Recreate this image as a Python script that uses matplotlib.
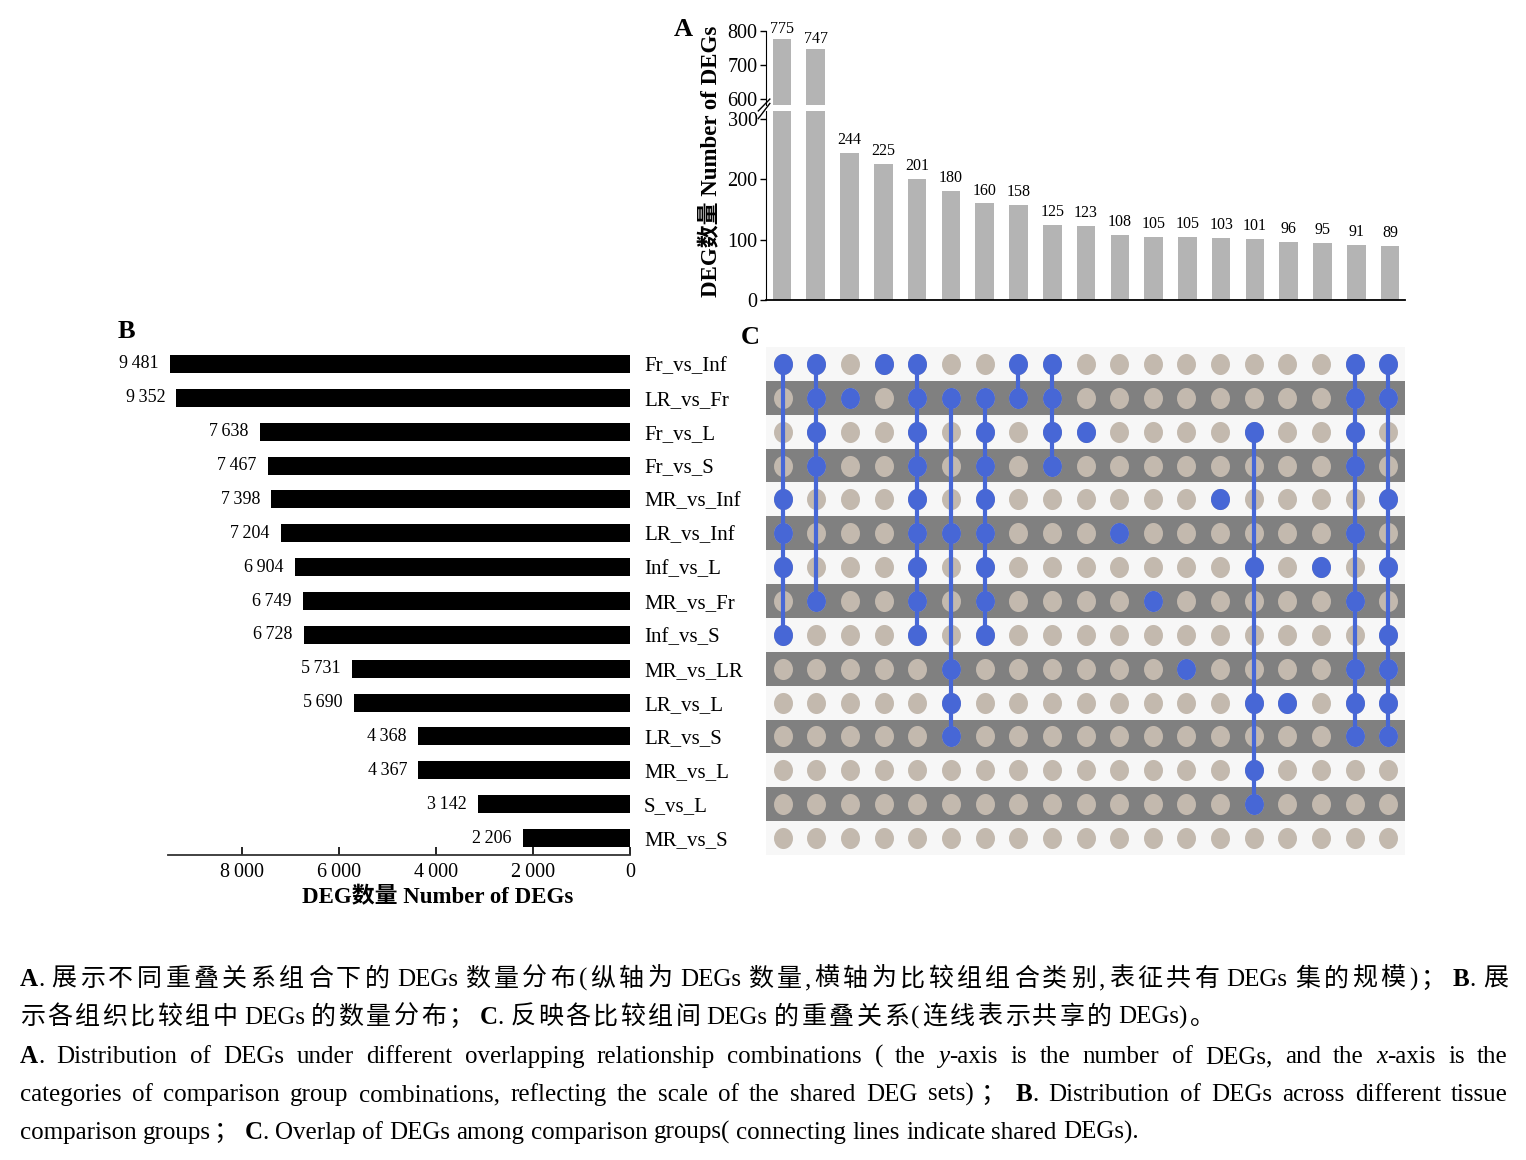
import matplotlib
matplotlib.use('Agg')
import matplotlib.pyplot as plt
from matplotlib.markers import MarkerStyle
from matplotlib.transforms import Affine2D

# ---- data ----
combo_counts = [775, 747, 244, 225, 201, 180, 160, 158, 125, 123, 108, 105, 105, 103, 101, 96, 95, 91, 89]
groups = ['Fr_vs_Inf', 'LR_vs_Fr', 'Fr_vs_L', 'Fr_vs_S', 'MR_vs_Inf', 'LR_vs_Inf', 'Inf_vs_L', 'MR_vs_Fr',
          'Inf_vs_S', 'MR_vs_LR', 'LR_vs_L', 'LR_vs_S', 'MR_vs_L', 'S_vs_L', 'MR_vs_S']
group_sizes = [9481, 9352, 7638, 7467, 7398, 7204, 6904, 6749, 6728, 5731, 5690, 4368, 4367, 3142, 2206]
# which groups (row index) belong to each combination column
combo_members = [
    [0, 4, 5, 6, 8],
    [0, 1, 2, 3, 7],
    [1],
    [0],
    [0, 1, 2, 3, 4, 5, 6, 7, 8],
    [1, 5, 9, 10, 11],
    [1, 2, 3, 4, 5, 6, 7, 8],
    [0, 1],
    [0, 1, 2, 3],
    [2],
    [5],
    [7],
    [9],
    [4],
    [2, 6, 10, 12, 13],
    [10],
    [6],
    [0, 1, 2, 3, 5, 7, 9, 10, 11],
    [0, 1, 4, 6, 8, 9, 10, 11],
]
b_ticks = [0, 2000, 4000, 6000, 8000]
a_low_ticks = [0, 100, 200, 300]
a_high_ticks = [600, 700, 800]
ylabel_txt = 'DEG数量 Number of DEGs'

SERIF = ['Liberation Serif', 'Noto Sans CJK SC', 'DejaVu Sans']
plt.rcParams['font.family'] = SERIF

BLUE = '#4767d6'
GREYDOT = '#c3b9ae'
BARGREY = '#b4b4b4'

W, H = 1526, 1160
fig = plt.figure(figsize=(W / 100, H / 100), dpi=100)


def px(l, t, r, b):
    return [l / W, 1 - b / H, (r - l) / W, (b - t) / H]


def thin(v):
    return f'{v:,}'.replace(',', '\u2009')


n = len(combo_counts)
xs = list(range(n))
XL = (-0.47, 18.44)

# ---- A: broken-axis bar chart ----
ax_hi = fig.add_axes(px(766, 31, 1405, 105))
ax_lo = fig.add_axes(px(766, 111, 1405, 300))
for ax in (ax_hi, ax_lo):
    ax.bar(xs, combo_counts, width=0.55, color=BARGREY)
    ax.set_xlim(*XL)
    ax.spines[['top', 'right']].set_visible(False)
    ax.tick_params(axis='y', labelsize=14.5, length=4, width=1, direction='out', pad=2)
    ax.set_xticks([])
ax_hi.set_ylim(582, 800)
ax_hi.set_yticks(a_high_ticks)
ax_hi.spines['bottom'].set_visible(False)
ax_lo.set_ylim(0, 313)
ax_lo.set_yticks(a_low_ticks)
ax_lo.spines['bottom'].set_linewidth(1.3)
for x, v in zip(xs, combo_counts):
    ax = ax_hi if v > 313 else ax_lo
    ax.text(x, v + (6 if v > 313 else 8), str(v), ha='center', va='bottom', fontsize=11.5)

# break marks
ax_hi.plot([-0.012, 0.006], [-0.08, 0.08], transform=ax_hi.transAxes, color='black', lw=1, clip_on=False)
ax_lo.plot([-0.012, 0.006], [0.96, 1.04], transform=ax_lo.transAxes, color='black', lw=1, clip_on=False)

fig.text(712 / W, 1 - 161 / H, ylabel_txt, rotation=90, ha='center', va='center',
         fontsize=16.5, fontweight='bold')

# ---- C: matrix ----
axm = fig.add_axes(px(766, 347, 1405, 855))
nrows = len(groups)
for r in range(nrows):
    axm.axhspan(r - 0.5, r + 0.5, color='#808080' if r % 2 else '#f7f7f7', lw=0, zorder=0)
mk = MarkerStyle('o', transform=Affine2D().scale(0.9, 1.0))
for c in range(n):
    axm.scatter([c] * nrows, range(nrows), marker=mk, s=230, color=GREYDOT, lw=0, zorder=1)
    mem = combo_members[c]
    if len(mem) > 1:
        axm.plot([c, c], [min(mem), max(mem)], color=BLUE, lw=3, zorder=2)
    axm.scatter([c] * len(mem), mem, marker=mk, s=230, color=BLUE, lw=0, zorder=3)
axm.set_xlim(-0.5, 18.5)
axm.set_ylim(nrows - 0.5, -0.5)
axm.axis('off')

# ---- B: set sizes ----
axb = fig.add_axes(px(168, 347, 630, 855))
axb.barh(range(nrows), group_sizes, height=0.53, color='black')
axb.set_xlim(9525, 0)
axb.set_ylim(nrows - 0.5, -0.5)
for sp in ('top', 'left', 'right'):
    axb.spines[sp].set_visible(False)
axb.spines['bottom'].set_linewidth(1.3)
axb.spines['bottom'].set_color('#333333')
axb.set_xticks(b_ticks)
axb.set_xticklabels([thin(t) for t in b_ticks], fontsize=14.5)
axb.tick_params(axis='x', direction='in', length=6, width=1.2, pad=6)
axb.yaxis.tick_right()
axb.set_yticks(range(nrows))
axb.set_yticklabels(groups, fontsize=15)
axb.tick_params(axis='y', length=0, pad=10)
for i, v in enumerate(group_sizes):
    axb.text(v + 230, i, thin(v), ha='right', va='center', fontsize=13)
fig.text(438 / W, 1 - 898 / H, ylabel_txt, fontsize=16.5, fontweight='bold', ha='center', va='center')

# panel letters
fig.text(683 / W, 1 - 29 / H, 'A', fontsize=19, fontweight='bold', ha='center', va='center')
fig.text(126 / W, 1 - 331 / H, 'B', fontsize=19, fontweight='bold', ha='center', va='center')
fig.text(750 / W, 1 - 337 / H, 'C', fontsize=19, fontweight='bold', ha='center', va='center')

# ---- caption ----
N, B, I = ('normal', 'normal'), ('bold', 'normal'), ('normal', 'italic')
caption_lines = [
    ([('A', B), ('. 展示不同重叠关系组合下的 DEGs 数量分布(纵轴为 DEGs 数量,横轴为比较组组合类别,表征共有 DEGs 集的规模)； ', N),
      ('B', B), ('. 展', N)], True),
    ([('示各组织比较组中 DEGs 的数量分布； ', N), ('C', B), ('. 反映各比较组间 DEGs 的重叠关系(连线表示共享的 DEGs)。', N)], False),
    ([('A', B), ('. Distribution of DEGs under different overlapping relationship combinations ( the ', N), ('y', I),
      ('-axis is the number of DEGs, and the ', N), ('x', I), ('-axis is the', N)], True),
    ([('categories of comparison group combinations, reflecting the scale of the shared DEG sets)； ', N), ('B', B),
      ('. Distribution of DEGs across different tissue', N)], True),
    ([('comparison groups； ', N), ('C', B), ('. Overlap of DEGs among comparison groups( connecting lines indicate shared DEGs).', N)], False),
]
caption_y = [978, 1016, 1055, 1093, 1131]
LAT_FS = 18
CJK_FS = 18


def is_cjk(ch):
    return ord(ch) > 0x2E7F


def tokenize(pieces):
    toks = []  # text, style, gap type before
    gap = 'none'
    for text, st in pieces:
        cur = ''
        for ch in text:
            if ch == ' ':
                if cur:
                    toks.append([cur, st, gap])
                    cur = ''
                    gap = 'none'
                gap = 'space'
            elif is_cjk(ch):
                if cur:
                    toks.append([cur, st, gap])
                    cur = ''
                    gap = 'none'
                toks.append([ch, st, 'cjk' if gap == 'none' else gap])
                gap = 'cjk'
            else:
                if not cur and gap == 'none' and toks and is_cjk(toks[-1][0][-1]):
                    gap = 'cjk'
                cur += ch
        if cur:
            toks.append([cur, st, gap])
            gap = 'none'
    if toks:
        toks[0][2] = 'none'
    return toks


renderer = fig.canvas.get_renderer()
x0, x1 = 20, 1508
sw = 0.25 * LAT_FS * 100 / 72
GAP_BASE = {'space': sw, 'cjk': 2.5, 'none': 0}
for (pieces, justify), yc in zip(caption_lines, caption_y):
    toks = tokenize(pieces)
    objs, widths = [], []
    for t, (wt, stl), g in toks:
        fs = CJK_FS if is_cjk(t[0]) else LAT_FS
        o = fig.text(0, 1 - (yc + 8) / H, t, fontsize=fs, fontweight=wt, fontstyle=stl, va='baseline', ha='left')
        objs.append(o)
        widths.append(o.get_window_extent(renderer).width)
    base = [GAP_BASE[g] for _, _, g in toks]
    ngaps = sum(1 for _, _, g in toks if g != 'none')
    extra = 0
    if justify and ngaps:
        extra = (x1 - x0 - sum(widths) - sum(base)) / ngaps
    x = x0
    for o, w, b, (_, _, g) in zip(objs, widths, base, toks):
        x += b + (extra if g != 'none' else 0)
        o.set_x(x / W)
        x += w

fig.savefig('out.png', dpi=100)
